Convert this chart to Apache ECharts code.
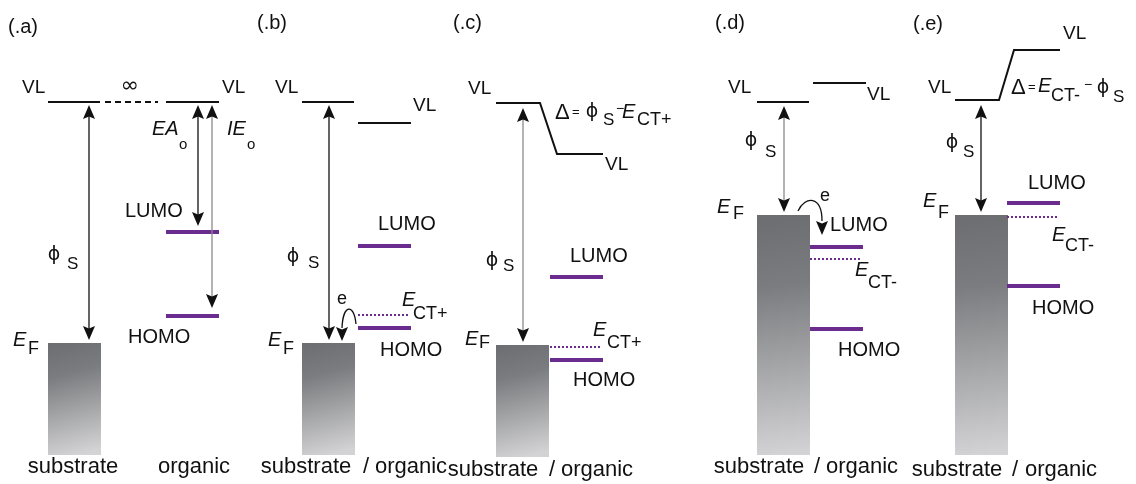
<!DOCTYPE html>
<html><head><meta charset="utf-8">
<script src="https://cdn.jsdelivr.net/npm/echarts@6/dist/echarts.min.js"></script>
<style>html,body{margin:0;padding:0;background:#fff}#c{width:1136px;height:484px}</style>
</head><body><div id="c"></div>
<script>
// ---------- DATA: energy positions on a downward energy axis (schematic units) ----------
const panelTags       = ['(.a)', '(.b)', '(.c)', '(.d)', '(.e)'];
const fermiLevel      = [343, 343, 345, 215, 215];
const bandBottom      = [455, 455, 457, 455, 455];
const vacuumSubstrate = [102, 102, 103, 102, 100];
const vacuumOrganic   = [102, 123, 154, 83, 50];
const lumoLevel       = [232, 246, 277, 247, 203];
const homoLevel       = [316, 328, 360, 329, 286];
const ctLevel         = [null, 315, 347, 259, 217];
const ctName          = [null, 'CT+', 'CT+', 'CT-', 'CT-'];
const vlJoined        = [false, false, true, false, true];

// ---------- LAYOUT (schematic x positions, styles) ----------
const substrateX = [48, 302, 496, 757, 955];
const organicX   = [166, 358, 550, 810, 1007];
const vlOrgShift = [0, 0, 7, 3, 7];
const BLOCK_W = 53, LEVEL_W = 53;
const PURPLE = '#6a2d8f', INK = '#111111', GREY = '#8a8a8a';
const FONT = '"Liberation Sans", Arial, sans-serif';
const GREEK = '"DejaVu Sans", "Liberation Sans", sans-serif';

// vertical arrows: [x, topTip, bottomTip, greyShaft]
const arrows = [
  [89, 105, 340, 0], [198, 105, 226, 0], [212, 105, 308, 1],
  [329, 105, 340, 0], [523, 108, 342, 1], [784, 106, 212, 1], [981, 105, 212, 0]
];
// curved electron-transfer arrows: [x0,y0, c1x,c1y, c2x,c2y, x3,y3, tipY]
const curves = [
  [356, 324, 354, 303, 343, 304, 342, 328, 341],
  [798, 211, 805, 196, 822, 195, 822, 221, 235]
];

// text items: [x, y, text, size, italic, align, family]
const labels = [];
function L(x, y, t, s, it, al, fam) { labels.push([x, y, t, s || 20, !!it, al || 'left', fam || FONT]); }
[[8,27],[257,23],[453,23],[715,23],[913,24]].forEach((p, i) => L(p[0], p[1], panelTags[i]));
[[22,88],[222,88],[275,88],[413,106],[468,89],[605,165],[728,88],[867,95],[928,88],[1063,34]]
  .forEach(p => L(p[0], p[1], 'VL', 19));
[[125,211],[378,224],[570,256],[830,225],[1028,183]].forEach(p => L(p[0], p[1], 'LUMO'));
[[128,337],[380,350],[573,380],[838,350],[1032,308]].forEach(p => L(p[0], p[1], 'HOMO'));
[[54,255],[293,257],[492,261],[751,141],[952,143]].forEach(p => L(p[0], p[1], 'ϕ', 19, false, 'center', GREEK));
[[67,264],[308,263],[503,266],[765,152],[963,152]].forEach(p => L(p[0], p[1], 'S', 17));
[[13,340],[268,340],[465,339],[717,207],[923,201]].forEach(p => L(p[0], p[1], 'E', 20, true));
[[28,349],[283,349],[479,343],[733,214],[938,213]].forEach(p => L(p[0], p[1], 'F', 18));
[[402,300],[593,330],[855,270],[1052,235]].forEach(p => L(p[0], p[1], 'E', 20, true));
[[413,314,1],[607,343,2],[868,283,3],[1065,246,4]].forEach(p => L(p[0], p[1], ctName[p[2]], 18));
L(342, 299, 'e', 18, false, 'center'); L(825, 196, 'e', 18, false, 'center');
L(152, 129, 'EA', 20, true); L(179, 145, 'o', 15);
L(227, 129, 'IE', 20, true); L(247, 145, 'o', 15);
L(130, 86, '∞', 22, false, 'center', GREEK);
// Δ labels
L(555, 113, 'Δ', 22); L(572, 112, '=', 13); L(592, 112, 'ϕ', 19, false, 'center', GREEK); L(603, 120, 'S', 17);
L(616, 109, '−', 14); L(622, 112, 'E', 20, true); L(637, 120, 'CT+', 18);
L(1011, 88, 'Δ', 22); L(1028, 87, '=', 13); L(1038, 86, 'E', 20, true); L(1051, 96, 'CT-', 18);
L(1084, 85, '−', 14); L(1103, 88, 'ϕ', 19, false, 'center', GREEK); L(1113, 97, 'S', 17);
// bottom captions
L(73, 467, 'substrate', 22, false, 'center'); L(194, 467, 'organic', 22, false, 'center');
[[306,366,411,467],[493,552,597,470],[759,817,862,467],[957,1015,1061,470]].forEach(p => {
  L(p[0], p[3], 'substrate', 22, false, 'center');
  L(p[1], p[3], '/', 22, false, 'center');
  L(p[2], p[3], 'organic', 22, false, 'center');
});

// ---------- build line data ----------
const vlLines = [], levelLines = [], ctLines = [], blocks = [];
panelTags.forEach((_, i) => {
  const sx = substrateX[i], ox = organicX[i];
  blocks.push([sx, fermiLevel[i], sx + BLOCK_W, bandBottom[i]]);
  if (vlJoined[i]) {
    vlLines.push({coords: [[sx, vacuumSubstrate[i]], [sx + 44, vacuumSubstrate[i]],
                           [ox + vlOrgShift[i], vacuumOrganic[i]], [ox + 53, vacuumOrganic[i]]]});
  } else {
    vlLines.push({coords: [[sx, vacuumSubstrate[i]], [sx + 52, vacuumSubstrate[i]]]});
    vlLines.push({coords: [[ox + vlOrgShift[i], vacuumOrganic[i]], [ox + vlOrgShift[i] + 53, vacuumOrganic[i]]]});
  }
  levelLines.push({coords: [[ox, lumoLevel[i]], [ox + LEVEL_W, lumoLevel[i]]]});
  levelLines.push({coords: [[ox, homoLevel[i]], [ox + LEVEL_W, homoLevel[i]]]});
  if (ctLevel[i] != null) ctLines.push({coords: [[ox, ctLevel[i]], [ox + LEVEL_W - 2, ctLevel[i]]]});
});
const gapLine = [{coords: [[substrateX[0] + 57, vacuumSubstrate[0]], [organicX[0] - 8, vacuumOrganic[0]]]}];

function head(px, py, dir) { // dir -1: points up, +1: points down
  return [[px, py], [px + 6, py - dir * 14], [px, py - dir * 11.5], [px - 6, py - dir * 14]];
}

const chart = echarts.init(document.getElementById('c'), null, {renderer: 'canvas'});
chart.setOption({
  animation: false,
  backgroundColor: '#ffffff',
  grid: {left: 0, right: 0, top: 0, bottom: 0},
  xAxis: {type: 'value', min: 0, max: 1136, show: false},
  yAxis: {type: 'value', min: 0, max: 484, inverse: true, show: false},
  series: [
    { type: 'custom', name: 'substrate', coordinateSystem: 'cartesian2d', silent: true,
      data: blocks,
      renderItem: (params, api) => {
        const a = api.coord([api.value(0), api.value(1)]);
        const b = api.coord([api.value(2), api.value(3)]);
        return {type: 'rect', shape: {x: a[0], y: a[1], width: b[0] - a[0], height: b[1] - a[1]},
          style: {fill: new echarts.graphic.LinearGradient(0, 0, 0.55, 1, [
            {offset: 0, color: '#6c6d70'}, {offset: 0.3, color: '#7b7c7f'}, {offset: 1, color: '#d3d3d5'}])}};
      } },
    { type: 'lines', name: 'VL', coordinateSystem: 'cartesian2d', polyline: true, silent: true,
      lineStyle: {color: INK, width: 2, opacity: 1}, data: vlLines },
    { type: 'lines', name: 'infinite', coordinateSystem: 'cartesian2d', silent: true,
      lineStyle: {color: INK, width: 2, type: [6, 4], opacity: 1}, data: gapLine },
    { type: 'lines', name: 'levels', coordinateSystem: 'cartesian2d', silent: true,
      lineStyle: {color: PURPLE, width: 4, opacity: 1}, data: levelLines },
    { type: 'lines', name: 'ECT', coordinateSystem: 'cartesian2d', silent: true,
      lineStyle: {color: PURPLE, width: 2, type: [2, 2], opacity: 1}, data: ctLines },
    { type: 'custom', name: 'arrows', coordinateSystem: 'cartesian2d', silent: true,
      data: arrows,
      renderItem: (params, api) => {
        const t = api.coord([api.value(0), api.value(1)]);
        const b = api.coord([api.value(0), api.value(2)]);
        return {type: 'group', children: [
          {type: 'line', shape: {x1: t[0], y1: t[1] + 8, x2: b[0], y2: b[1] - 8},
           style: {stroke: api.value(3) ? GREY : INK, lineWidth: 1.3}},
          {type: 'polygon', shape: {points: head(t[0], t[1], -1)}, style: {fill: INK}},
          {type: 'polygon', shape: {points: head(b[0], b[1], 1)}, style: {fill: INK}}
        ]};
      } },
    { type: 'custom', name: 'transfer', coordinateSystem: 'cartesian2d', silent: true,
      data: curves,
      renderItem: (params, api) => {
        const p = [0, 2, 4, 6].map(k => api.coord([api.value(k), api.value(k + 1)]));
        const tip = api.coord([api.value(6), api.value(8)]);
        return {type: 'group', children: [
          {type: 'bezierCurve', shape: {x1: p[0][0], y1: p[0][1], cpx1: p[1][0], cpy1: p[1][1],
            cpx2: p[2][0], cpy2: p[2][1], x2: p[3][0], y2: p[3][1]},
           style: {stroke: INK, lineWidth: 1.3, fill: null}},
          {type: 'polygon', shape: {points: head(tip[0], tip[1], 1)}, style: {fill: INK}}
        ]};
      } },
    { type: 'custom', name: 'text', coordinateSystem: 'cartesian2d', silent: true,
      data: labels.map(l => [l[0], l[1]]),
      renderItem: (params, api) => {
        const l = labels[params.dataIndex];
        const p = api.coord([api.value(0), api.value(1)]);
        return {type: 'text', x: p[0], y: p[1], style: {text: l[2], fontSize: l[3],
          fontFamily: l[6], fontStyle: l[4] ? 'italic' : 'normal', fill: INK,
          align: l[5], verticalAlign: 'middle'}};
      } }
  ]
});
</script></body></html>
